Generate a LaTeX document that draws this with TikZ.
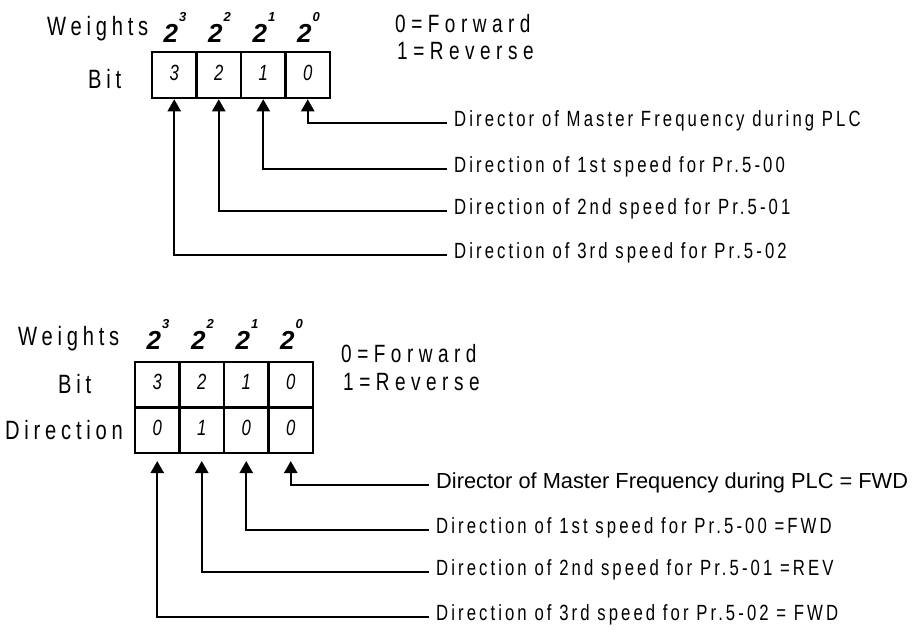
\documentclass[tikz,border=0pt]{standalone}
\usepackage{fontspec}
\setmainfont{Liberation Sans}
\newfontfamily\noteSans[FakeStretch=0.76,LetterSpace=14]{Liberation Sans}
\newfontfamily\labelSans[FakeStretch=0.76,LetterSpace=18]{Liberation Sans}
\newfontfamily\legendSans[FakeStretch=0.76,LetterSpace=22]{Liberation Sans}
\usetikzlibrary{arrows.meta,positioning}
\tikzset{
  bitcell/.style={draw, line width=2.5pt, minimum width=44.5pt, minimum height=46pt, inner sep=0pt,
    text height=1em, text depth=0pt, font=\noteSans\itshape\fontsize{22}{22}\selectfont},
  rowlabel/.style={anchor=base west, inner sep=0pt, font=\labelSans\fontsize{26.5}{26}\selectfont},
  weight/.style={anchor=base, inner sep=0pt, font=\bfseries\itshape\fontsize{26}{26}\selectfont},
  legend/.style={anchor=base west, inner sep=0pt, font=\legendSans\fontsize{25}{25}\selectfont},
  bitnote/.style={anchor=west, inner xsep=7pt, inner ysep=0pt, text height=0.716em, text depth=0pt,
    font=\noteSans\fontsize{22}{22}\selectfont},
  pointer/.style={line width=2.3pt, -{Triangle[width=13pt,length=12pt]}},
}
\newcommand{\wexp}[1]{2\kern1pt\raisebox{21pt}{\fontsize{13}{13}\selectfont #1}}

\begin{document}
\begin{tikzpicture}[x=1pt,y=-1pt]
  \useasboundingbox (0,0) rectangle (913,632);
  % upper register: bit numbers only
  \node[rowlabel] (wlabA) at (47,35) {Weights};
  \node[weight] (wA3) at (175,42) {\wexp{3}};
  \node[weight] (wA2) at (219.5,42) {\wexp{2}};
  \node[weight] (wA1) at (264,42) {\wexp{1}};
  \node[weight] (wA0) at (308.5,42) {\wexp{0}};
  \node[legend] (fwdA) at (395,32) {0=Forward};
  \node[legend] (revA) at (397,59) {1=Reverse};
  \node[rowlabel] (bitA) at (88,88) {Bit};
  \node[bitcell] (cA3) at (174.25,75) {3};
  \node[bitcell] (cA2) at (218.75,75) {2};
  \node[bitcell] (cA1) at (263.25,75) {1};
  \node[bitcell] (cA0) at (307.75,75) {0};
  % notes for each bit
  \node[bitnote] (nA0) at (447,123) {Director of Master Frequency during PLC};
  \node[bitnote] (nA1) at (447,169) {Direction of 1st speed for Pr.5-00};
  \node[bitnote] (nA2) at (447,211) {Direction of 2nd speed for Pr.5-01};
  \node[bitnote] (nA3) at (447,255) {Direction of 3rd speed for Pr.5-02};
  \draw[pointer] (nA0.west) -| (cA0.south);
  \draw[pointer] (nA1.west) -| (cA1.south);
  \draw[pointer] (nA2.west) -| (cA2.south);
  \draw[pointer] (nA3.west) -| (cA3.south);

  % lower register: bit numbers and directions
  \node[rowlabel] (wlabB) at (18,345) {Weights};
  \node[weight] (wB3) at (158,349) {\wexp{3}};
  \node[weight] (wB2) at (202.5,349) {\wexp{2}};
  \node[weight] (wB1) at (247,349) {\wexp{1}};
  \node[weight] (wB0) at (291.5,349) {\wexp{0}};
  \node[legend] (fwdB) at (341,362) {0=Forward};
  \node[legend] (revB) at (343,390) {1=Reverse};
  \node[rowlabel] (bitB) at (58,393) {Bit};
  \node[rowlabel] (dirB) at (5,439) {Direction};
  \node[bitcell, minimum height=45.5pt] (cB3) at (157.25,384.5) {3};
  \node[bitcell, minimum height=45.5pt] (cB2) at (201.75,384.5) {2};
  \node[bitcell, minimum height=45.5pt] (cB1) at (246.25,384.5) {1};
  \node[bitcell, minimum height=45.5pt] (cB0) at (290.75,384.5) {0};
  \node[bitcell, minimum height=45.5pt] (dB3) at (157.25,430) {0};
  \node[bitcell, minimum height=45.5pt] (dB2) at (201.75,430) {1};
  \node[bitcell, minimum height=45.5pt] (dB1) at (246.25,430) {0};
  \node[bitcell, minimum height=45.5pt] (dB0) at (290.75,430) {0};
  % notes with the resulting direction
  \node[bitnote, font=\normalfont\fontsize{21.8}{22}\selectfont] (nB0) at (429,485) {Director of Master Frequency during PLC = FWD};
  \node[bitnote] (nB1) at (429,530) {Direction of 1st speed for Pr.5-00 =FWD};
  \node[bitnote] (nB2) at (429,572) {Direction of 2nd speed for Pr.5-01 =REV};
  \node[bitnote] (nB3) at (429,617) {Direction of 3rd speed for Pr.5-02 = FWD};
  \draw[pointer] (nB0.west) -| ([yshift=-7pt]dB0.south);
  \draw[pointer] (nB1.west) -| ([yshift=-7pt]dB1.south);
  \draw[pointer] (nB2.west) -| ([yshift=-7pt]dB2.south);
  \draw[pointer] (nB3.west) -| ([yshift=-7pt]dB3.south);
\end{tikzpicture}
\end{document}
